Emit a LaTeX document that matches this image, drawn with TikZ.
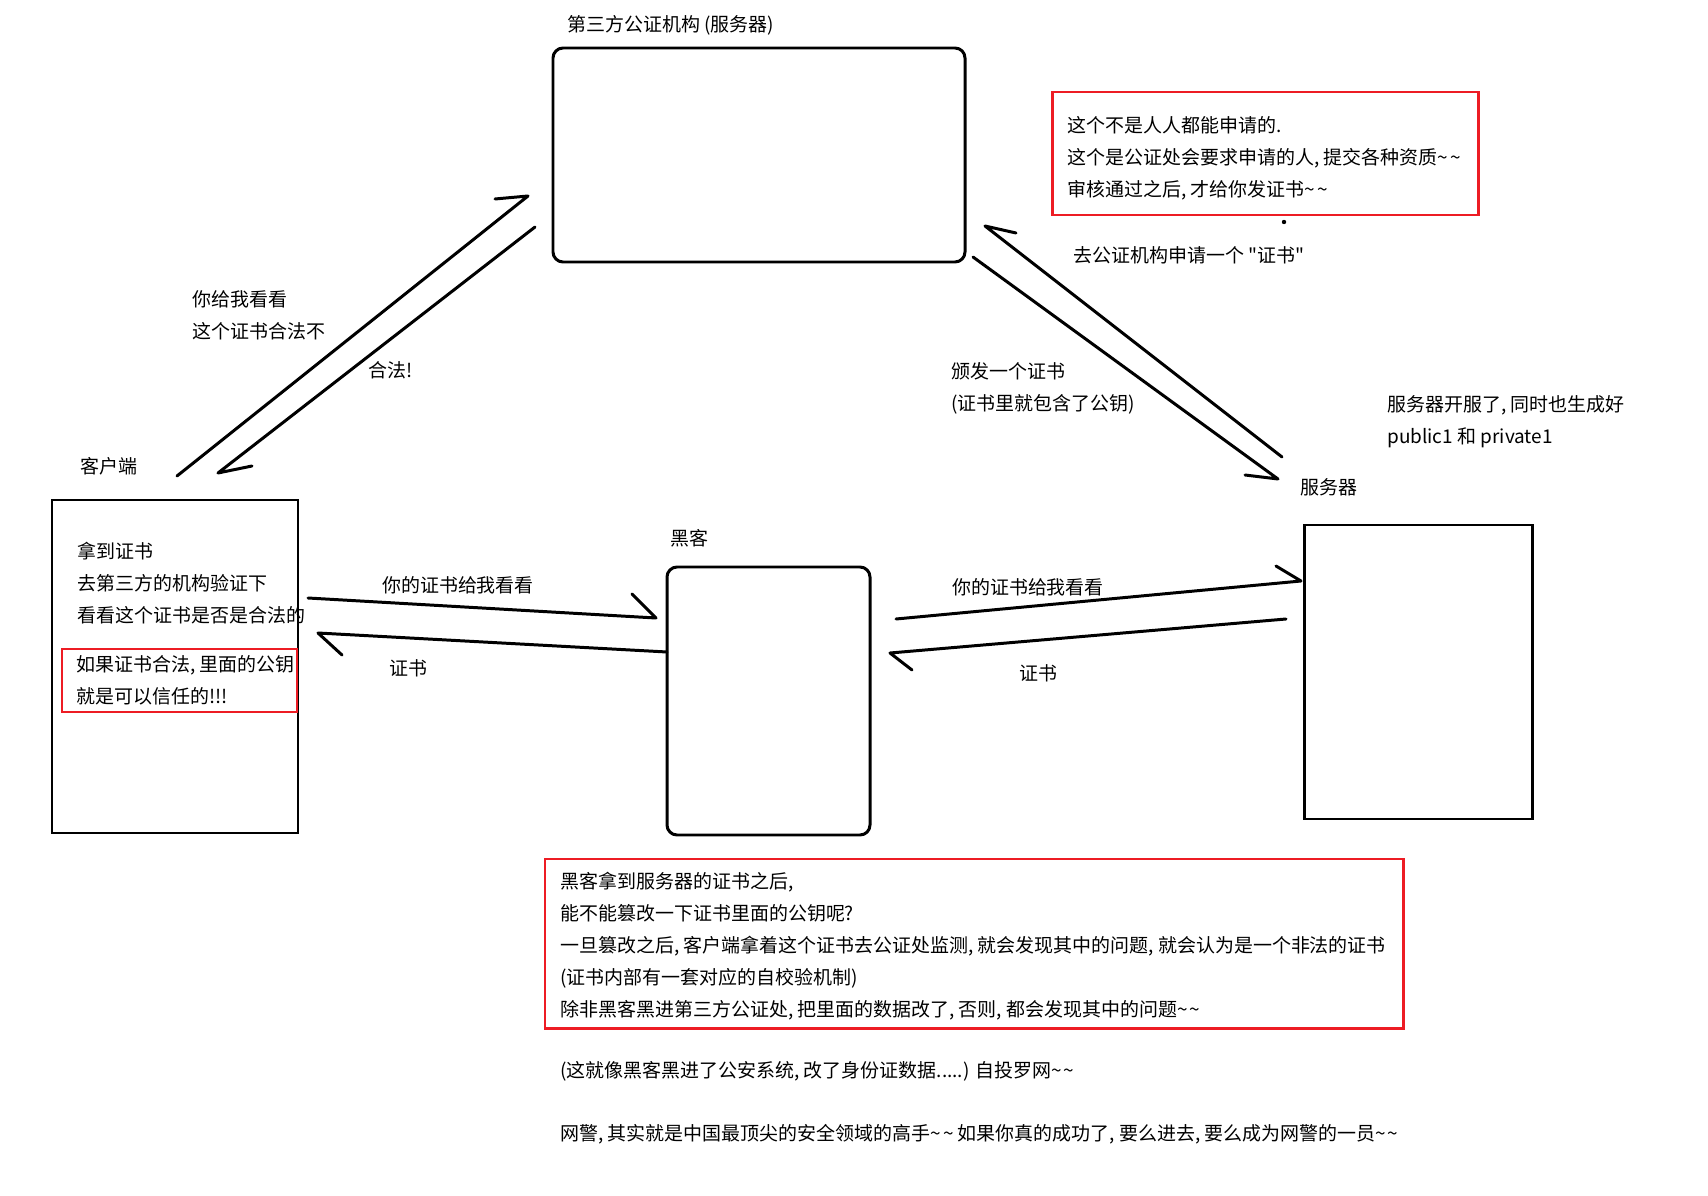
\documentclass[tikz,border=0pt]{standalone}
\usepackage{fontspec}
\setmainfont{Noto Sans CJK SC}[Ligatures=TeXOff]
\usetikzlibrary{positioning}
\definecolor{PaintRed}{HTML}{ED1C24}
\newcommand\twotilde{\textasciitilde\kern1.2pt\textasciitilde}
\tikzset{
  pen/.style={line width=1.7pt,line cap=round,line join=round},
  box/.style={draw,line width=1.7pt,inner sep=0pt},
  rbox/.style={box,rounded corners=5.7pt},
  redbox/.style={draw=PaintRed,line width=1.7pt,inner sep=0pt},
  txt/.style={inner sep=0pt,anchor=west,align=left,
              font=\fontsize{10.8pt}{18.2pt}\selectfont},
  lbl/.style={inner sep=0pt,font=\fontsize{10.8pt}{18.2pt}\selectfont}
}

\begin{document}
\begin{tikzpicture}[x=0.02cm,y=-0.02cm]
  \useasboundingbox (0,0) rectangle (1708,1196);

  % the four parties
  \node[rbox,minimum width=412*0.02cm,minimum height=214*0.02cm] (ca) at (759,155) {};
  \node[box,minimum width=246*0.02cm,minimum height=333*0.02cm] (client) at (175,666.5) {};
  \node[rbox,minimum width=203*0.02cm,minimum height=268*0.02cm] (hacker) at (768.5,701) {};
  \node[box,minimum width=228*0.02cm,minimum height=294*0.02cm] (server) at (1418,672) {};

  \node[txt] (caTitle) at (567,25) {第三方公证机构 (服务器)};
  \node[txt] (clientTitle) at (80,466) {客户端};
  \node[txt] (hackerTitle) at (670,538) {黑客};
  \node[txt] (serverTitle) at (1300,487) {服务器};

  % notes
  \node[redbox,minimum width=426*0.02cm,minimum height=123*0.02cm] (caNote) at (1265,153.5) {};
  \node[txt] (caNoteText) at (1067,158) {这个不是人人都能申请的.\\这个是公证处会要求申请的人, 提交各种资质\twotilde\\审核通过之后, 才给你发证书\twotilde};
  \node[circle,fill,inner sep=0pt,minimum size=2.5pt] (dot) at (1284,222) {};

  \node[txt] (clientText) at (77,583) {拿到证书\\去第三方的机构验证下\\看看这个证书是否是合法的};
  \node[redbox,minimum width=235*0.02cm,minimum height=63*0.02cm] (clientNote) at (179.5,680.5) {};
  \node[txt] (clientNoteText) at (76,680) {如果证书合法, 里面的公钥\\就是可以信任的!!!};

  \node[txt] (serverText) at (1387,422) {服务器开服了, 同时也生成好\\public1 和 private1};

  \node[redbox,minimum width=858*0.02cm,minimum height=169*0.02cm] (hackNote) at (974,943.5) {};
  \node[txt] (hackNoteText) at (560,946) {黑客拿到服务器的证书之后,\\能不能篡改一下证书里面的公钥呢?\\一旦篡改之后, 客户端拿着这个证书去公证处监测, 就会发现其中的问题, 就会认为是一个非法的证书\\(证书内部有一套对应的自校验机制)\\除非黑客黑进第三方公证处, 把里面的数据改了, 否则, 都会发现其中的问题\twotilde};
  \node[txt] (policeA) at (560,1071) {(这就像黑客黑进了公安系统, 改了身份证数据.....) 自投罗网\twotilde};
  \node[txt] (policeB) at (560,1134) {网警, 其实就是中国最顶尖的安全领域的高手\twotilde{} 如果你真的成功了, 要么进去, 要么成为网警的一员\twotilde};

  % client <-> CA
  \coordinate (c2caS) at (177,476);
  \coordinate (c2caT) at (528,196);
  \draw[pen] (c2caS) -- (c2caT) -- ++(-33,3);
  \coordinate (ca2cS) at (535,227);
  \coordinate (ca2cT) at (218,473);
  \draw[pen] (ca2cS) -- (ca2cT) -- ++(34,-7);
  \node[txt] (askCa) at (192,315) {你给我看看\\这个证书合法不};
  \node[txt] (okCa) at (368,370) {合法!};

  % server <-> CA
  \coordinate (s2caS) at (1282,457);
  \coordinate (s2caT) at (985,226);
  \draw[pen] (s2caS) -- (s2caT) -- ++(31,7);
  \coordinate (ca2sS) at (973,257);
  \coordinate (ca2sT) at (1278,479);
  \draw[pen] (ca2sS) -- (ca2sT) -- ++(-33,-4);
  \node[txt] (applyCa) at (1073,255) {去公证机构申请一个 "证书"};
  \node[txt] (issueCa) at (951,388) {颁发一个证书\\(证书里就包含了公钥)};

  % client <-> hacker
  \coordinate (c2hS) at (308,598);
  \coordinate (c2hT) at (656,618);
  \draw[pen] (c2hS) -- (c2hT) -- ++(-24,-24);
  \coordinate (h2cS) at (667,652);
  \coordinate (h2cT) at (318,633);
  \draw[pen] (h2cS) -- (h2cT) -- ++(24,22);
  \node[lbl] (askL) at (458,585) {你的证书给我看看};
  \node[lbl] (certL) at (408,668) {证书};

  % hacker <-> server
  \coordinate (h2sS) at (896,619);
  \coordinate (h2sT) at (1301,581);
  \draw[pen] (h2sS) -- (h2sT) -- ++(-25,-15);
  \coordinate (s2hS) at (1286,619);
  \coordinate (s2hT) at (890,653);
  \draw[pen] (s2hS) -- (s2hT) -- ++(22,17);
  \node[lbl] (askR) at (1028,587) {你的证书给我看看};
  \node[lbl] (certR) at (1038,673) {证书};
\end{tikzpicture}
\end{document}
